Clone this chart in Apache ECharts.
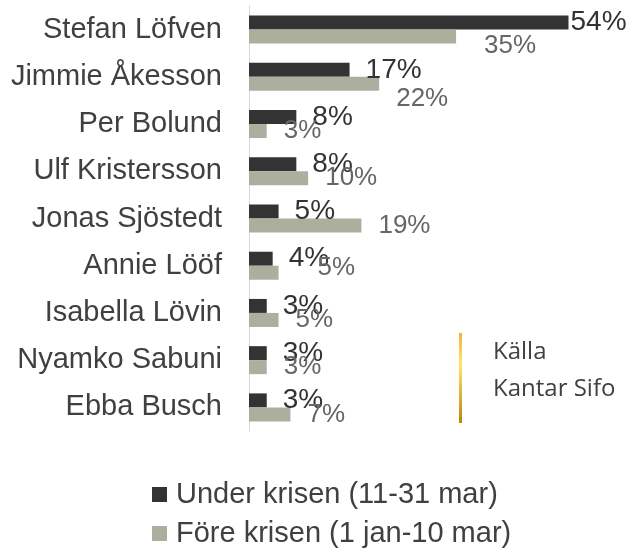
<!DOCTYPE html>
<html>
<head>
<meta charset="utf-8">
<script src="https://cdn.jsdelivr.net/npm/echarts@6/dist/echarts.min.js"></script>
<style>
    html, body { margin: 0; padding: 0; background: #fff; }
    #chart { width: 629px; height: 548px; }
</style>
</head>
<body>
<div id="chart"></div>
<script>
    // partiledare, uppifrån och ned
    var names = ['Stefan Löfven', 'Jimmie Åkesson', 'Per Bolund', 'Ulf Kristersson', 'Jonas Sjöstedt',
        'Annie Lööf', 'Isabella Lövin', 'Nyamko Sabuni', 'Ebba Busch']
    var underKrisen = [54, 17, 8, 8, 5, 4, 3, 3, 3]
    var foreKrisen = [35, 22, 3, 10, 19, 5, 5, 3, 7]
    var seriesNames = ['Under krisen (11-31 mar)', 'Före krisen (1 jan-10 mar)']
    var sourceLines = ['Källa', 'Kantar Sifo']

    var font = "'Liberation Sans', Arial, sans-serif"
    var myChart = echarts.init(document.getElementById('chart'))

    // några etiketter är flyttade för hand i originalet
    var underLabels = { 0: { distance: 2 } }
    var foreLabels = {
        0: { distance: 28, offset: [0, 9] },
        1: { offset: [0, 15] },
        5: { distance: 39, offset: [0, -5] }
    }

    function withLabels(values, labels) {
        return values.map(function (v, i) {
            return labels[i] ? { value: v, label: labels[i] } : v
        })
    }

    var option = {
        animation: false,
        grid: { left: 249, right: 25, top: 6, bottom: 117 },
        xAxis: {
            type: 'value', min: 0, max: 60,
            show: false
        },
        yAxis: {
            type: 'category',
            inverse: true,
            data: names,
            axisLine: { lineStyle: { color: '#d9d9d9', width: 1 } },
            axisTick: { show: false },
            axisLabel: { color: '#404040', fontSize: 29, fontFamily: font, margin: 27 }
        },
        legend: {
            orient: 'vertical',
            left: 152, top: 480, height: 80,
            padding: 0,
            itemWidth: 15, itemHeight: 15, itemGap: 10,
            icon: 'rect',
            textStyle: { color: '#404040', fontSize: 29, lineHeight: 29, fontFamily: font, padding: [0, 0, 0, 4] },
            data: seriesNames
        },
        series: [
            {
                name: seriesNames[0],
                type: 'bar',
                data: withLabels(underKrisen, underLabels),
                barWidth: 14,
                barGap: '0%',
                itemStyle: { color: '#333333' },
                label: {
                    show: true, position: 'right', distance: 16,
                    formatter: '{c}%', color: '#333333', fontSize: 28, fontFamily: font
                }
            },
            {
                name: seriesNames[1],
                type: 'bar',
                data: withLabels(foreKrisen, foreLabels),
                barWidth: 14,
                itemStyle: { color: '#aeae9f' },
                label: {
                    show: true, position: 'right', distance: 17,
                    formatter: '{c}%', color: '#666666', fontSize: 26, fontFamily: font
                }
            }
        ],
        graphic: [
            {
                type: 'rect',
                shape: { x: 459, y: 333, width: 3, height: 90 },
                style: {
                    fill: new echarts.graphic.LinearGradient(0, 0, 0, 1, [
                        { offset: 0, color: '#e8b83a' },
                        { offset: 0.35, color: '#ffe56a' },
                        { offset: 1, color: '#b8860b' }
                    ])
                }
            },
            {
                type: 'text', left: 493, top: 340,
                style: { text: sourceLines[0], fill: '#404040', font: "24px 'Open Sans', sans-serif" }
            },
            {
                type: 'text', left: 493, top: 377,
                style: { text: sourceLines[1], fill: '#404040', font: "24px 'Open Sans', sans-serif" }
            }
        ]
    }
    myChart.setOption(option)
</script>
</body>
</html>
